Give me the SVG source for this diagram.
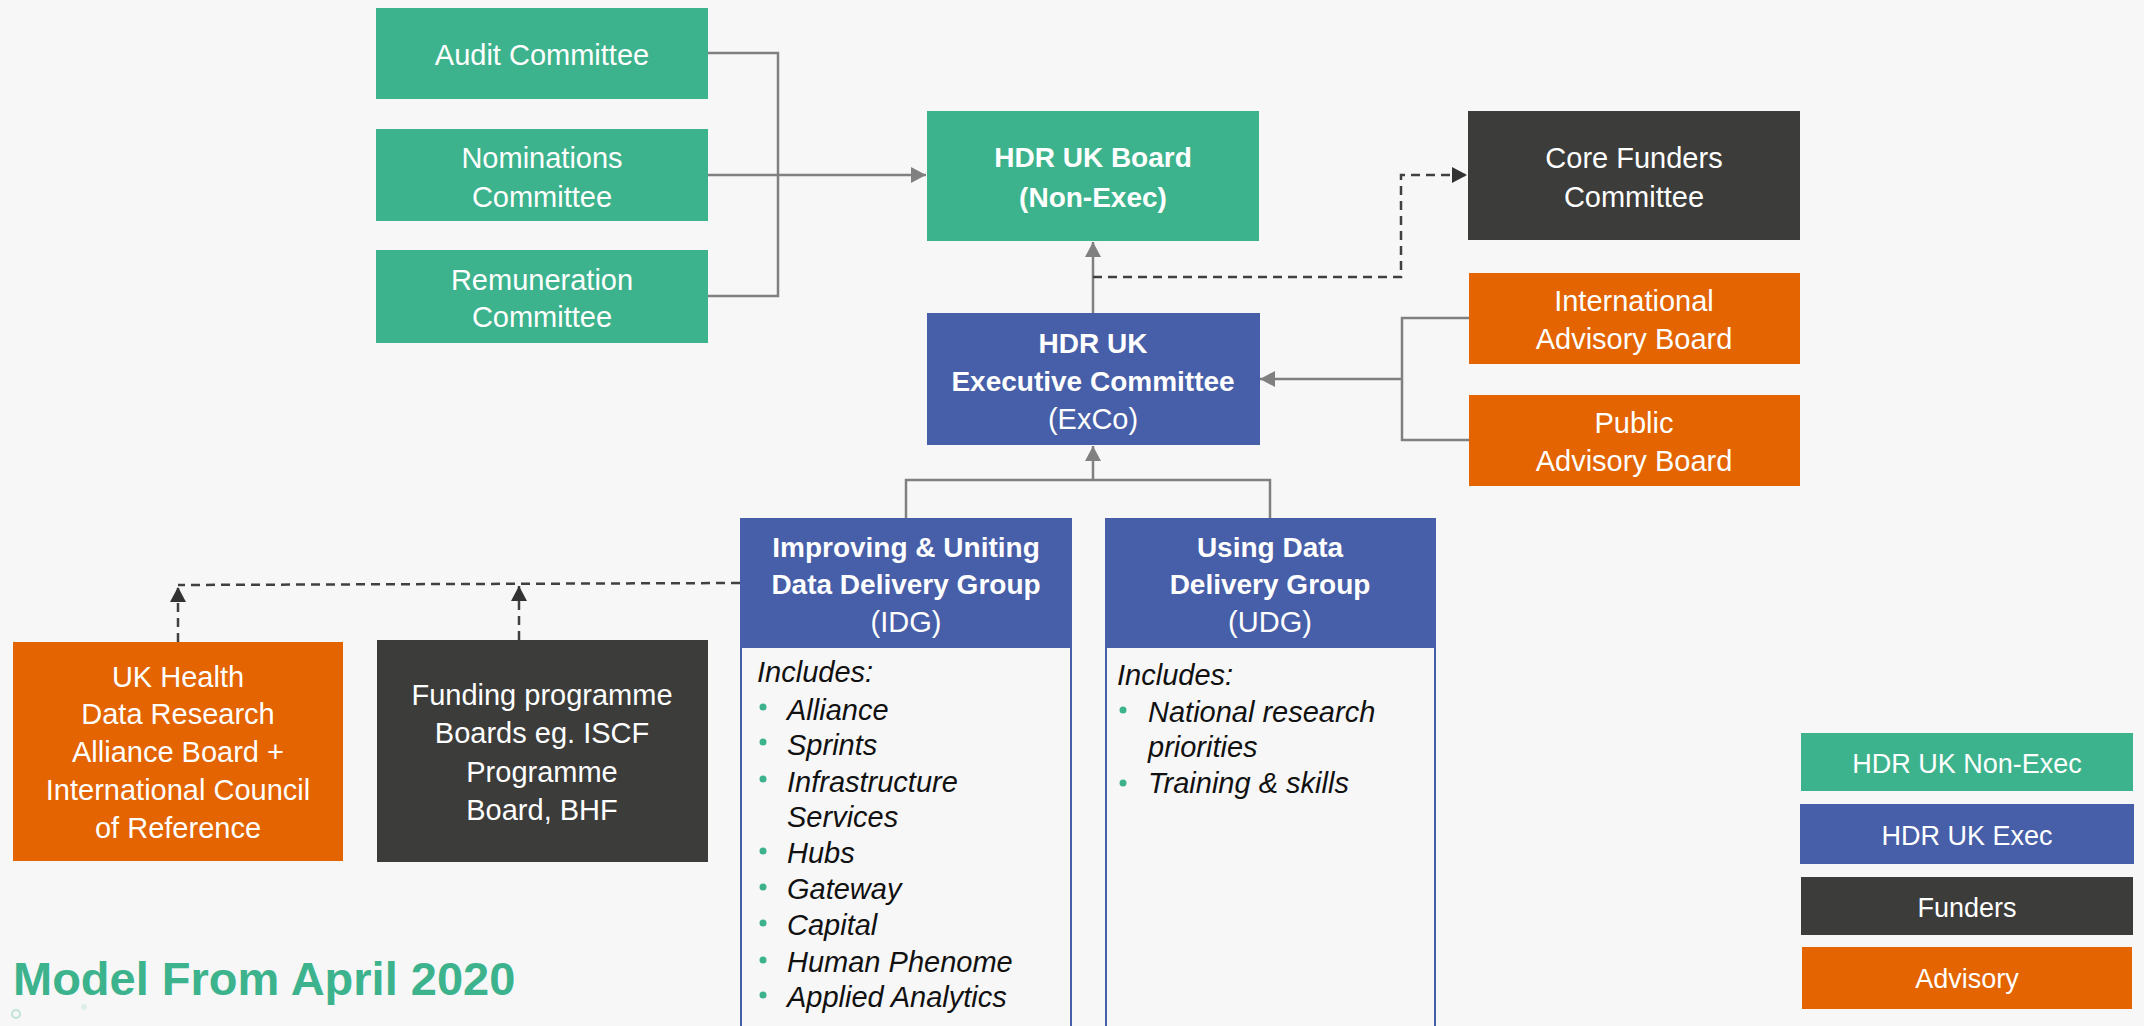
<svg xmlns="http://www.w3.org/2000/svg" width="2144" height="1026" viewBox="0 0 2144 1026">
<defs>
<style>
text{font-family:"Liberation Sans",Arial,sans-serif;}
.nx{fill:#3cb38c;}
.ex{fill:#475ea8;}
.fd{fill:#3c3c3b;}
.ad{fill:#e36400;}
.t{fill:#ffffff;font-size:29px;text-anchor:middle;}
.b{font-weight:bold;font-size:28px;}
.lg{fill:#ffffff;font-size:27px;text-anchor:middle;}
.it{fill:#111111;font-size:29px;font-style:italic;}
.dot{fill:#3cb38c;}
.ln{fill:none;stroke:#808080;stroke-width:2.5;}
.dl{fill:none;stroke:#404040;stroke-width:2.5;stroke-dasharray:9 6;}
.body{fill:#f7f7f7;stroke:#475ea8;stroke-width:2;}
</style>
<marker id="ag" markerUnits="userSpaceOnUse" markerWidth="16" markerHeight="16" refX="15" refY="8" orient="auto">
<path d="M0,0 L15,8 L0,16 z" fill="#808080"/>
</marker>
<marker id="ad" markerUnits="userSpaceOnUse" markerWidth="16" markerHeight="16" refX="15" refY="8" orient="auto">
<path d="M0,0 L15,8 L0,16 z" fill="#333333"/>
</marker>
</defs>
<rect width="2144" height="1026" fill="#f7f7f7"/>

<g id="connectors">
<path class="ln" d="M708,53 H778 V296 H708"/>
<path class="ln" d="M708,175 H926" marker-end="url(#ag)"/>
<path class="ln" d="M1093,313 V242" marker-end="url(#ag)"/>
<path class="dl" d="M1093,277 H1401 V175 H1467" marker-end="url(#ad)"/>
<path class="ln" d="M1469,318 H1402 V440 H1469"/>
<path class="ln" d="M1402,379 H1260" marker-end="url(#ag)"/>
<path class="ln" d="M906,518 V480 H1270 V518"/>
<path class="ln" d="M1093,480 V446" marker-end="url(#ag)"/>
<path class="dl" d="M740,583 L178,585"/>
<path class="dl" d="M178,642 V587" marker-end="url(#ad)"/>
<path class="dl" d="M519,640 V586" marker-end="url(#ad)"/>
</g>

<g id="audit-committee">
<rect class="nx" x="376" y="8" width="332" height="91"/>
<text class="t" x="542" y="65">Audit Committee</text>
</g>
<g id="nominations-committee">
<rect class="nx" x="376" y="129" width="332" height="92"/>
<text class="t" x="542" y="168">Nominations</text>
<text class="t" x="542" y="207">Committee</text>
</g>
<g id="remuneration-committee">
<rect class="nx" x="376" y="250" width="332" height="93"/>
<text class="t" x="542" y="290">Remuneration</text>
<text class="t" x="542" y="327">Committee</text>
</g>

<g id="hdr-uk-board">
<rect class="nx" x="927" y="111" width="332" height="130"/>
<text class="t b" x="1093" y="167">HDR UK Board</text>
<text class="t b" x="1093" y="207">(Non-Exec)</text>
</g>

<g id="core-funders-committee">
<rect class="fd" x="1468" y="111" width="332" height="129"/>
<text class="t" x="1634" y="168">Core Funders</text>
<text class="t" x="1634" y="207">Committee</text>
</g>

<g id="exco">
<rect class="ex" x="927" y="313" width="333" height="132"/>
<text class="t b" x="1093" y="353">HDR UK</text>
<text class="t b" x="1093" y="391">Executive Committee</text>
<text class="t" x="1093" y="429">(ExCo)</text>
</g>

<g id="international-advisory-board">
<rect class="ad" x="1469" y="273" width="331" height="91"/>
<text class="t" x="1634" y="311">International</text>
<text class="t" x="1634" y="349">Advisory Board</text>
</g>
<g id="public-advisory-board">
<rect class="ad" x="1469" y="395" width="331" height="91"/>
<text class="t" x="1634" y="433">Public</text>
<text class="t" x="1634" y="471">Advisory Board</text>
</g>

<g id="idg">
<rect class="body" x="741" y="600" width="330" height="440"/>
<rect class="ex" x="740" y="518" width="332" height="130"/>
<text class="t b" x="906" y="557">Improving &amp; Uniting</text>
<text class="t b" x="906" y="594">Data Delivery Group</text>
<text class="t" x="906" y="632">(IDG)</text>
<text class="it" x="757" y="682">Includes:</text>
<circle class="dot" cx="763" cy="707" r="3.5"/><text class="it" x="787" y="720">Alliance</text>
<circle class="dot" cx="763" cy="742" r="3.5"/><text class="it" x="787" y="755">Sprints</text>
<circle class="dot" cx="763" cy="779" r="3.5"/><text class="it" x="787" y="792">Infrastructure</text>
<text class="it" x="787" y="827">Services</text>
<circle class="dot" cx="763" cy="851" r="3.5"/><text class="it" x="787" y="863">Hubs</text>
<circle class="dot" cx="763" cy="887" r="3.5"/><text class="it" x="787" y="899">Gateway</text>
<circle class="dot" cx="763" cy="923" r="3.5"/><text class="it" x="787" y="935">Capital</text>
<circle class="dot" cx="763" cy="960" r="3.5"/><text class="it" x="787" y="972">Human Phenome</text>
<circle class="dot" cx="763" cy="995" r="3.5"/><text class="it" x="787" y="1007">Applied Analytics</text>
</g>

<g id="udg">
<rect class="body" x="1106" y="600" width="329" height="440"/>
<rect class="ex" x="1105" y="518" width="331" height="130"/>
<text class="t b" x="1270" y="557">Using Data</text>
<text class="t b" x="1270" y="594">Delivery Group</text>
<text class="t" x="1270" y="632">(UDG)</text>
<text class="it" x="1117" y="685">Includes:</text>
<circle class="dot" cx="1123" cy="710" r="3.5"/><text class="it" x="1148" y="722">National research</text>
<text class="it" x="1148" y="757">priorities</text>
<circle class="dot" cx="1123" cy="783" r="3.5"/><text class="it" x="1148" y="793">Training &amp; skills</text>
</g>

<g id="uk-health-data-research-alliance-board">
<rect class="ad" x="13" y="642" width="330" height="219"/>
<text class="t" x="178" y="687">UK Health</text>
<text class="t" x="178" y="724">Data Research</text>
<text class="t" x="178" y="762">Alliance Board +</text>
<text class="t" x="178" y="800">International Council</text>
<text class="t" x="178" y="838">of Reference</text>
</g>

<g id="funding-programme-boards">
<rect class="fd" x="377" y="640" width="331" height="222"/>
<text class="t" x="542" y="705">Funding programme</text>
<text class="t" x="542" y="743">Boards eg. ISCF</text>
<text class="t" x="542" y="782">Programme</text>
<text class="t" x="542" y="820">Board, BHF</text>
</g>

<g id="legend">
<g id="legend-non-exec"><rect class="nx" x="1801" y="733" width="332" height="58"/><text class="lg" x="1967" y="773">HDR UK Non-Exec</text></g>
<g id="legend-exec"><rect class="ex" x="1800" y="804" width="334" height="60"/><text class="lg" x="1967" y="845">HDR UK Exec</text></g>
<g id="legend-funders"><rect class="fd" x="1801" y="877" width="332" height="58"/><text class="lg" x="1967" y="917">Funders</text></g>
<g id="legend-advisory"><rect class="ad" x="1802" y="947" width="330" height="62"/><text class="lg" x="1967" y="988">Advisory</text></g>
</g>

<text x="13" y="995" font-size="47" font-weight="bold" fill="#3cb38c" style="font-family:'Liberation Sans',Arial,sans-serif">Model From April 2020</text>
<circle cx="16" cy="1014" r="4" fill="none" stroke="#bfe3d6" stroke-width="2"/>
<circle cx="84" cy="1007" r="3" fill="#dcefe7"/>
</svg>
